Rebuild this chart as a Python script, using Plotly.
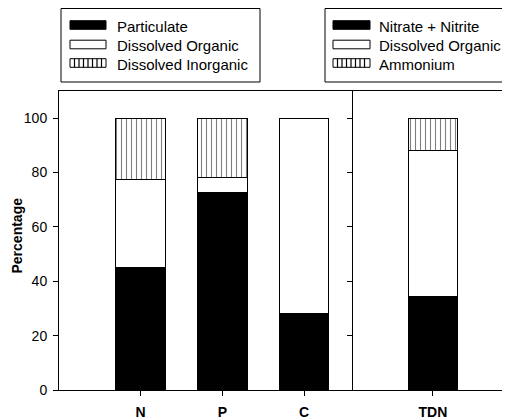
import plotly.graph_objects as go

# Data
cats_left = ["N", "P", "C"]
particulate = [45, 72.5, 28]
dissolved_organic = [32.5, 5.5, 72]
dissolved_inorganic = [22.5, 22, 0]

cats_right = ["TDN"]
nitrate_nitrite = [34.5]
tdn_organic = [53.5]
ammonium = [12]

names_left = ["Particulate", "Dissolved Organic", "Dissolved Inorganic"]
names_right = ["Nitrate + Nitrite", "Dissolved Organic", "Ammonium"]
y_ticks = [0, 20, 40, 60, 80, 100]
y_title = "Percentage"

FONT = "Liberation Sans, Arial, sans-serif"
line = dict(color="black", width=1)
hatch = dict(shape="|", fgcolor="black", bgcolor="white", size=5, solidity=0.22)
styles = [dict(color="black", line=line),
          dict(color="white", line=line),
          dict(color="white", line=line, pattern=hatch)]

fig = go.Figure()
W = 0.61
for name, vals, st in zip(names_left, [particulate, dissolved_organic, dissolved_inorganic], styles):
    fig.add_trace(go.Bar(x=cats_left, y=vals, name=name, width=W, marker=st,
                         showlegend=False, xaxis="x", yaxis="y"))
for name, vals, st in zip(names_right, [nitrate_nitrite, tdn_organic, ammonium], styles):
    fig.add_trace(go.Bar(x=cats_right, y=vals, name=name, width=W, marker=st,
                         showlegend=False, xaxis="x2", yaxis="y2"))

# page pixel -> paper helpers (plot area spans x 59..510, y 91..390 on the page)
def px(x):
    return (x - 59) / 451

def py(y):
    return 1 + (91 - y) / 299

split = px(353)
axis_common = dict(showline=True, linecolor="black", linewidth=1, ticks="outside",
                   ticklen=5, tickcolor="black", showgrid=False, zeroline=False)
xfont = dict(family=FONT, size=14, color="black", weight="bold")
yfont = dict(family=FONT, size=14, color="black")

shapes = []
annotations = []
# legend boxes
for x0, x1 in [(61, 260), (325, 508.5)]:
    shapes.append(dict(type="rect", xref="paper", yref="paper",
                       x0=px(x0), x1=px(x1), y0=py(82), y1=py(8.5),
                       line=dict(color="black", width=1)))
# legend entries
row_y = [25, 44.5, 63]
for names, sx0, sx1, tx in [(names_left, 70, 106, 115), (names_right, 333, 370, 377)]:
    for i, (nm, yc) in enumerate(zip(names, row_y)):
        fill = "black" if i == 0 else "white"
        shapes.append(dict(type="rect", xref="paper", yref="paper",
                           x0=px(sx0), x1=px(sx1), y0=py(yc + 4.3), y1=py(yc - 4.3),
                           fillcolor=fill, line=dict(color="black", width=1)))
        if i == 2:
            xx = sx0 + 4.5
            while xx < sx1 - 1:
                shapes.append(dict(type="line", xref="paper", yref="paper",
                                   x0=px(xx), x1=px(xx), y0=py(yc + 4.3), y1=py(yc - 4.3),
                                   line=dict(color="black", width=1.2)))
                xx += 4.5
        annotations.append(dict(text=nm, xref="paper", yref="paper", x=px(tx), y=py(yc + 1.5),
                                xanchor="left", yanchor="middle", showarrow=False,
                                font=dict(family=FONT, size=15, color="black")))

# y-axis title placed as rotated text
annotations.append(dict(text="<b>" + y_title + "</b>", xref="paper", yref="paper",
                        x=px(16.5), y=py(236), xanchor="center", yanchor="middle",
                        textangle=-90, showarrow=False,
                        font=dict(family=FONT, size=14, color="black")))

fig.update_layout(
    width=502, height=411,
    margin=dict(l=51, r=0, t=83, b=29, autoexpand=False),
    paper_bgcolor="white", plot_bgcolor="white",
    barmode="stack", showlegend=False,
    font=dict(family=FONT, size=14, color="black"),
    xaxis=dict(domain=[0, split], range=[-1, 2.6], anchor="y", mirror=True,
               tickfont=xfont, ticklabelstandoff=4, **axis_common),
    xaxis2=dict(domain=[split, 1], range=[-0.98, 0.945], anchor="y2", mirror=True,
                tickfont=xfont, ticklabelstandoff=4, **axis_common),
    yaxis=dict(range=[0, 110], tickvals=y_ticks, anchor="x", tickfont=yfont,
               ticklabelstandoff=3, **axis_common),
    yaxis2=dict(range=[0, 110], tickvals=y_ticks, anchor="x2",
                showticklabels=False, **axis_common),
    shapes=shapes,
    annotations=annotations,
)

fig.write_html("out.html")
